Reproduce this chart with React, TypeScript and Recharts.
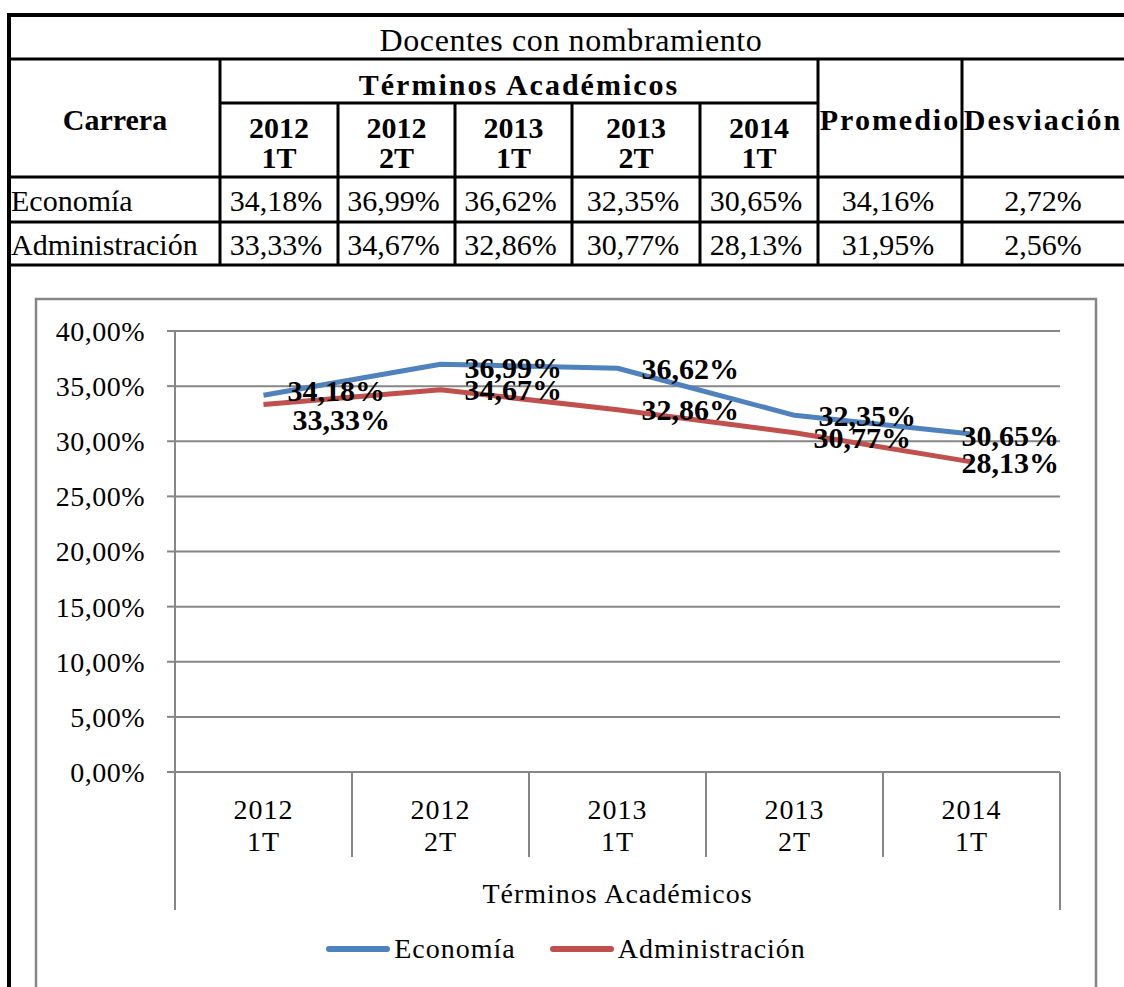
import React from 'react';
import { LineChart, Line, XAxis, YAxis, CartesianGrid, LabelList, Legend, Label } from 'recharts';

const terms = ['2012 1T', '2012 2T', '2013 1T', '2013 2T', '2014 1T'];
const economia = [34.18, 36.99, 36.62, 32.35, 30.65];
const administracion = [33.33, 34.67, 32.86, 30.77, 28.13];
const promedio = [34.16, 31.95];
const desviacion = [2.72, 2.56];
const yTicks = [0, 5, 10, 15, 20, 25, 30, 35, 40];

const series = [
  { key: 'economia', name: 'Economía', values: economia, color: '#4F81BD' },
  { key: 'administracion', name: 'Administración', values: administracion, color: '#C0504D' },
];

// manual nudges of the data labels [dx, dy], like the hand-moved labels in the original
const labelNudge: Record<string, number[][]> = {
  economia: [[0, -5], [0, 3], [0, 0], [0, 0], [0, 1]],
  administracion: [[5, 15], [0, 0], [0, 0], [-5, 5], [0, 1]],
};

const SERIF = '"Liberation Serif", "Times New Roman", serif';
const GRAY = '#868686';

const W = 1124;
const H = 987;
const PLOT_LEFT = 175;
const PLOT_RIGHT = 1060;
const PLOT_TOP = 331;
const PLOT_BOTTOM = 772;
const Y_AXIS_W = 120;
const X_AXIS_H = 140;
const CAT_W = (PLOT_RIGHT - PLOT_LEFT) / terms.length;

const chartData = terms.map((t, i) => ({
  term: t,
  economia: economia[i],
  administracion: administracion[i],
}));

const pct = (v: number) => `${v.toFixed(2).replace('.', ',')}%`;

// rough width of a bold Times string
const boldWidth = (s: string, size: number) =>
  s.split('').reduce((w, c) => w + (c === ',' ? 0.25 : c === '%' ? 1 : 0.5), 0) * size;

const makeLabel = (key: string) => (props: any) => {
  const { x, y, value, index } = props;
  const txt = pct(value);
  const size = 30;
  const [dx, dy] = labelNudge[key][index] || [0, 0];
  const w = boldWidth(txt, size);
  let lx = x + 24 + dx;
  if (lx + w > PLOT_RIGHT) lx = PLOT_RIGHT - w - 1;
  return (
    <text
      x={lx}
      y={y + dy}
      fontFamily={SERIF}
      fontSize={size}
      fontWeight="bold"
      fill="#000"
      dominantBaseline="central"
    >
      {txt}
    </text>
  );
};

const CategoryTick = (props: any) => {
  const { x, payload, index } = props;
  const [year, term] = String(payload.value).split(' ');
  const y0 = PLOT_BOTTOM;
  const last = index === terms.length - 1;
  return (
    <g>
      <line x1={x - CAT_W / 2} y1={y0} x2={x - CAT_W / 2} y2={y0 + (index === 0 ? 138 : 85)} stroke={GRAY} strokeWidth={2} />
      {last && <line x1={x + CAT_W / 2} y1={y0} x2={x + CAT_W / 2} y2={y0 + 138} stroke={GRAY} strokeWidth={2} />}
      <text x={x} y={y0 + 37} textAnchor="middle" dominantBaseline="central" fontFamily={SERIF} fontSize={28} letterSpacing={1} fill="#000">
        {year}
      </text>
      <text x={x} y={y0 + 69} textAnchor="middle" dominantBaseline="central" fontFamily={SERIF} fontSize={28} letterSpacing={1} fill="#000">
        {term}
      </text>
    </g>
  );
};

const LegendContent = () => (
  <div style={{ display: 'flex', justifyContent: 'center', alignItems: 'center', height: 48, fontFamily: SERIF, fontSize: 28, letterSpacing: 1, color: '#000' }}>
    {series.map((s, i) => (
      <div key={s.key} style={{ display: 'flex', alignItems: 'center', marginLeft: i ? 34 : 0 }}>
        <svg width={64} height={10}>
          <line x1={3} y1={5} x2={61} y2={5} stroke={s.color} strokeWidth={6} strokeLinecap="round" />
        </svg>
        <span style={{ marginLeft: 4 }}>{s.name}</span>
      </div>
    ))}
  </div>
);

// table geometry
const colX = [9, 220, 338, 455, 572, 700, 818, 962, 1124];
const rowY = [15, 59, 103, 177, 222, 265];

const TableText = ({ x, y, children, bold, size = 30, anchor = 'middle', spacing = 0 }: any) => (
  <text
    x={x}
    y={y}
    textAnchor={anchor}
    dominantBaseline="central"
    fontFamily={SERIF}
    fontSize={size}
    fontWeight={bold ? 'bold' : 'normal'}
    letterSpacing={spacing}
    fill="#000"
  >
    {children}
  </text>
);

const Table = () => {
  const rows = [
    { name: 'Economía', values: economia, avg: promedio[0], dev: desviacion[0] },
    { name: 'Administración', values: administracion, avg: promedio[1], dev: desviacion[1] },
  ];
  const yearCols = terms.map((_, i) => [colX[i + 1], colX[i + 2]]);
  return (
    <g>
      {/* horizontal rules */}
      <line x1={7} y1={rowY[0]} x2={W} y2={rowY[0]} stroke="#000" strokeWidth={4} />
      <line x1={7} y1={rowY[1]} x2={W} y2={rowY[1]} stroke="#000" strokeWidth={3} />
      <line x1={colX[1]} y1={rowY[2]} x2={colX[6]} y2={rowY[2]} stroke="#000" strokeWidth={3} />
      <line x1={7} y1={rowY[3]} x2={W} y2={rowY[3]} stroke="#000" strokeWidth={3} />
      <line x1={7} y1={rowY[4]} x2={W} y2={rowY[4]} stroke="#000" strokeWidth={3} />
      <line x1={7} y1={rowY[5]} x2={W} y2={rowY[5]} stroke="#000" strokeWidth={3} />
      {/* vertical rules */}
      <line x1={colX[0]} y1={13} x2={colX[0]} y2={H} stroke="#000" strokeWidth={4} />
      <line x1={colX[1]} y1={rowY[1]} x2={colX[1]} y2={rowY[5]} stroke="#000" strokeWidth={3} />
      {[2, 3, 4, 5].map((c) => (
        <line key={c} x1={colX[c]} y1={rowY[2]} x2={colX[c]} y2={rowY[5]} stroke="#000" strokeWidth={3} />
      ))}
      <line x1={colX[6]} y1={rowY[1]} x2={colX[6]} y2={rowY[5]} stroke="#000" strokeWidth={3} />
      <line x1={colX[7]} y1={rowY[1]} x2={colX[7]} y2={rowY[5]} stroke="#000" strokeWidth={3} />

      <TableText x={571} y={40} size={32} spacing={0.6}>Docentes con nombramiento</TableText>
      <TableText x={115} y={119} bold>Carrera</TableText>
      <TableText x={519} y={84} bold spacing={2}>Términos Académicos</TableText>
      {terms.map((t, i) => {
        const [yr, tm] = t.split(' ');
        const cx = (yearCols[i][0] + yearCols[i][1]) / 2;
        return (
          <g key={t}>
            <TableText x={cx} y={127} bold>{yr}</TableText>
            <TableText x={cx} y={157} bold>{tm}</TableText>
          </g>
        );
      })}
      <TableText x={890} y={119} bold spacing={2}>Promedio</TableText>
      <TableText x={1043} y={119} bold spacing={2}>Desviación</TableText>

      {rows.map((r, ri) => {
        const cy = ri === 0 ? 200 : 244;
        return (
          <g key={r.name}>
            <TableText x={11} y={cy} anchor="start" spacing={ri ? 0 : 0}>{r.name}</TableText>
            {r.values.map((v, i) => (
              <TableText key={i} x={(yearCols[i][0] + yearCols[i][1]) / 2 - 3} y={cy}>{pct(v)}</TableText>
            ))}
            <TableText x={888} y={cy}>{pct(r.avg)}</TableText>
            <TableText x={1043} y={cy}>{pct(r.dev)}</TableText>
          </g>
        );
      })}
    </g>
  );
};

export default function App() {
  return (
    <div style={{ position: 'absolute', left: 0, top: 0, width: W, height: H, overflow: 'hidden', background: '#fff' }}>
      <svg width={W} height={H} style={{ position: 'absolute', left: 0, top: 0 }}>
        <rect x={36} y={299} width={1060} height={760} fill="#fff" stroke={GRAY} strokeWidth={2.5} />
        <Table />
      </svg>
      <div style={{ position: 'absolute', left: 0, top: 0 }}>
        <LineChart
          width={W}
          height={H}
          data={chartData}
          margin={{ top: PLOT_TOP, right: W - PLOT_RIGHT, bottom: H - PLOT_BOTTOM - X_AXIS_H, left: PLOT_LEFT - Y_AXIS_W }}
        >
          <CartesianGrid vertical={false} stroke={GRAY} strokeWidth={2} />
          <XAxis
            dataKey="term"
            type="category"
            padding={{ left: CAT_W / 2, right: CAT_W / 2 }}
            height={X_AXIS_H}
            tickSize={0}
            tickMargin={0}
            tickLine={false}
            axisLine={{ stroke: GRAY, strokeWidth: 2 }}
            tick={<CategoryTick />}
            interval={0}
          >
            <Label
              content={(p: any) => {
                const vb = p.viewBox || { x: PLOT_LEFT, width: PLOT_RIGHT - PLOT_LEFT };
                return (
                  <text x={vb.x + vb.width / 2} y={PLOT_BOTTOM + 121} textAnchor="middle" dominantBaseline="central" fontFamily={SERIF} fontSize={28} letterSpacing={1} fill="#000">
                    Términos Académicos
                  </text>
                );
              }}
            />
          </XAxis>
          <YAxis
            width={Y_AXIS_W}
            domain={[0, 40]}
            ticks={yTicks}
            interval={0}
            tickFormatter={pct}
            tickSize={8}
            tickMargin={22}
            tickLine={{ stroke: GRAY, strokeWidth: 2 }}
            axisLine={{ stroke: GRAY, strokeWidth: 2 }}
            tick={{ fontFamily: SERIF, fontSize: 28, fill: '#000', letterSpacing: 0.5 }}
          />
          {series.map((s) => (
            <Line
              key={s.key}
              dataKey={s.key}
              name={s.name}
              stroke={s.color}
              strokeWidth={5}
              strokeLinejoin="round"
              dot={false}
              activeDot={false}
              isAnimationActive={false}
            >
              <LabelList dataKey={s.key} content={makeLabel(s.key)} />
            </Line>
          ))}
          <Legend
            layout="horizontal"
            verticalAlign="middle"
            align="center"
            wrapperStyle={{ top: 925, left: 36, width: 1060 }}
            content={<LegendContent />}
          />
        </LineChart>
      </div>
    </div>
  );
}
